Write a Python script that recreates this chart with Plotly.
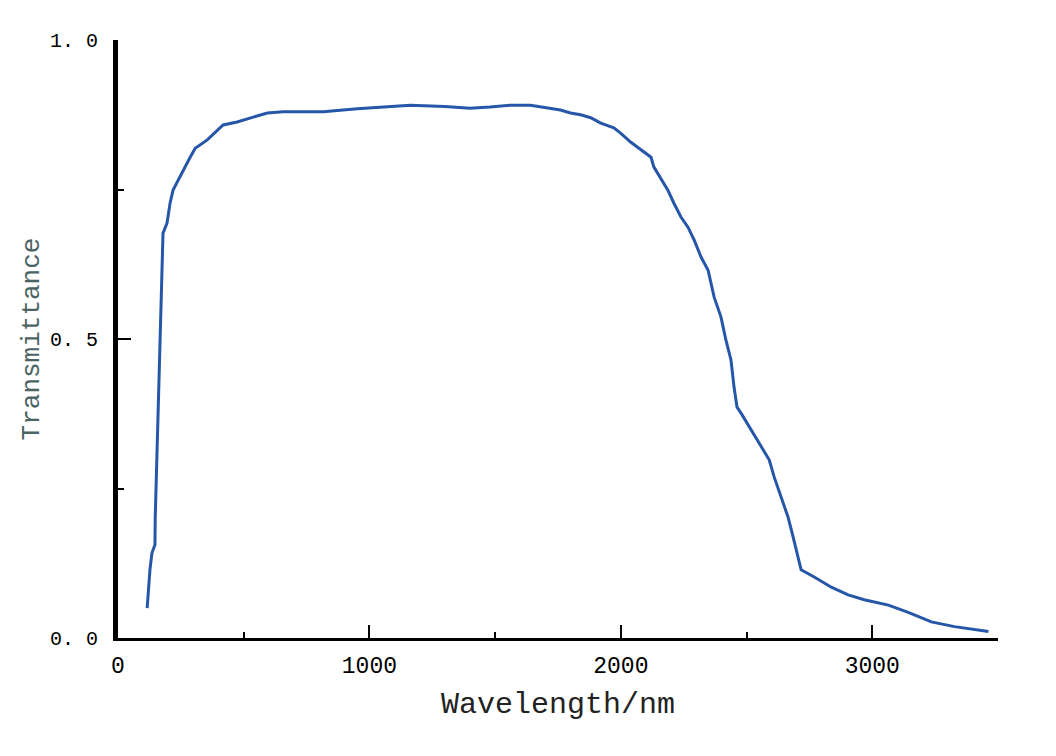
import plotly.graph_objects as go

# transmittance curve
wavelength = [116, 120, 127, 135, 147, 148, 151, 155, 159, 163, 167, 171, 179,
              195, 207, 219, 239, 259, 287, 307, 355, 418, 474, 538, 594, 657,
              817, 952, 1163, 1300, 1400, 1480, 1560, 1640, 1700, 1760, 1800,
              1840, 1880, 1920, 1972, 2000, 2040, 2080, 2120, 2131, 2159, 2187,
              2211, 2239, 2267, 2291, 2319, 2347, 2371, 2398, 2418, 2438, 2450,
              2462, 2478, 2518, 2558, 2590, 2610, 2637, 2665, 2685, 2705, 2717,
              2769, 2837, 2904, 2968, 3064, 3143, 3235, 3327, 3462]
transmittance = [0.050, 0.080, 0.114, 0.142, 0.156, 0.200, 0.247, 0.310, 0.400,
                 0.450, 0.498, 0.595, 0.677, 0.694, 0.727, 0.749, 0.766, 0.783,
                 0.804, 0.819, 0.833, 0.858, 0.863, 0.871, 0.878, 0.880, 0.880,
                 0.885, 0.891, 0.889, 0.886, 0.888, 0.891, 0.891, 0.887, 0.883,
                 0.878, 0.875, 0.870, 0.861, 0.853, 0.844, 0.829, 0.816, 0.804,
                 0.788, 0.769, 0.749, 0.727, 0.704, 0.687, 0.666, 0.637, 0.615,
                 0.570, 0.537, 0.498, 0.465, 0.420, 0.386, 0.376, 0.348, 0.320,
                 0.298, 0.269, 0.236, 0.202, 0.169, 0.135, 0.114, 0.102, 0.085,
                 0.072, 0.064, 0.055, 0.043, 0.027, 0.019, 0.011]

x_ticks = [0, 1000, 2000, 3000]
y_ticks = [0.0, 0.5, 1.0]
y_labels = ["0. 0", "0. 5", "1. 0"]

fig = go.Figure(go.Scatter(x=wavelength, y=transmittance, mode="lines",
                           line=dict(color="#2656a8", width=3)))

# page body adds 8px, so the margins are shifted to compensate
fig.update_layout(
    width=1056, height=756,
    margin=dict(l=110, r=66, t=32, b=126),
    plot_bgcolor="white", paper_bgcolor="white",
    showlegend=False,
)
fig.update_xaxes(
    range=[0, 3500], tickvals=x_ticks, ticks="inside", ticklen=13,
    tickwidth=2, tickcolor="black", showgrid=False, zeroline=False,
    showline=True, linecolor="black", linewidth=2.5, automargin=False,
    tickfont=dict(family="Liberation Mono", size=23, color="black"),
    ticklabelstandoff=5,
    minor=dict(dtick=500, tick0=0, ticks="inside", ticklen=6,
               tickwidth=2, tickcolor="black", showgrid=False),
    title=dict(text="Wavelength/nm", standoff=13,
               font=dict(family="Liberation Mono", size=30, color="#222222")),
)
fig.update_yaxes(
    range=[0, 1.0], tickvals=y_ticks, ticktext=y_labels, ticks="inside",
    ticklen=13, tickwidth=2, tickcolor="black", showgrid=False,
    zeroline=False, showline=True, linecolor="black", linewidth=5,
    automargin=False,
    tickfont=dict(family="Liberation Mono", size=20, color="black"),
    ticklabelstandoff=11,
    minor=dict(dtick=0.25, tick0=0, ticks="inside", ticklen=6,
               tickwidth=2, tickcolor="black", showgrid=False),
    title=dict(text="Transmittance", standoff=4,
               font=dict(family="Liberation Mono", size=26, color="#4a6464")),
)

fig.write_html("out.html")
